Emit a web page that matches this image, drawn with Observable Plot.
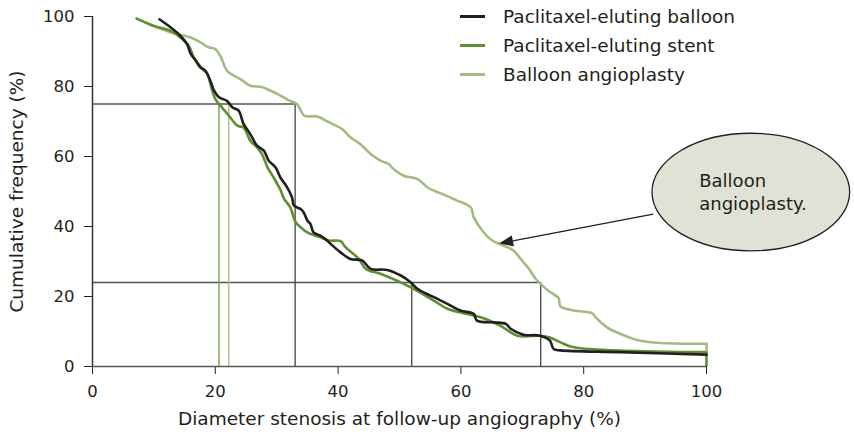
<!DOCTYPE html>
<html>
<head>
<meta charset="utf-8">
<script src="https://cdn.jsdelivr.net/npm/d3@7"></script>
<script src="https://cdn.jsdelivr.net/npm/@observablehq/plot@0.6"></script>
<style>
  body { margin: 0; background: #fff; }
  #wrap { position: relative; width: 854px; height: 439px; font-family: "DejaVu Sans", sans-serif; color: #231f20; }
  #legend { position: absolute; left: 460px; top: 1.5px; }
  #legend .row { display: flex; align-items: center; height: 29px; font-size: 18.5px; white-space: nowrap; }
  #legend .sw { width: 25px; height: 3px; margin-right: 18px; }
</style>
</head>
<body>
<div id="wrap"><div id="legend"></div></div>
<script>
// Series names and colours (legend order)
const seriesNames = ["Paclitaxel-eluting balloon", "Paclitaxel-eluting stent", "Balloon angioplasty"];
const seriesColors = ["#231f20", "#5f8f33", "#a3ba83"];

// Cumulative distribution of diameter stenosis at follow-up (%)
const balloonX = [10.9, 12.7, 14.3, 15.4, 16.0, 16.8, 17.6, 18.4, 19.2, 19.8, 20.6, 21.9, 22.8, 23.8, 24.6, 25.7, 26.8, 27.9, 28.7, 29.8, 30.6, 31.7, 32.5, 32.8, 33.9, 34.4, 35.0, 35.5, 36.0, 37.1, 38.2, 38.8, 40.4, 42.0, 43.9, 45.3, 48.0, 50.2, 51.8, 52.9, 55.6, 57.8, 59.9, 62.1, 62.6, 65.4, 67.3, 68.1, 70.2, 72.9, 74.5, 75.1, 76.2, 86.0, 100];
const balloonY = [99.2, 96.9, 94.5, 92.1, 89.3, 87.4, 85.4, 84.5, 81.6, 78.8, 76.9, 75.9, 74.0, 73.1, 69.3, 66.4, 63.1, 61.7, 58.8, 56.9, 54.0, 51.2, 48.3, 46.0, 45.0, 44.0, 41.7, 40.7, 38.3, 37.4, 36.0, 35.0, 32.6, 30.7, 30.3, 27.9, 27.6, 26.0, 24.1, 22.2, 19.8, 17.9, 16.0, 15.0, 13.1, 12.6, 12.2, 10.8, 9.1, 8.8, 7.4, 5.0, 4.6, 4.1, 3.4];

const stentX = [7.2, 10.0, 12.7, 14.3, 15.7, 16.5, 17.9, 18.7, 19.5, 20.0, 21.1, 22.2, 23.6, 24.6, 25.2, 25.7, 26.8, 27.6, 28.5, 29.5, 30.6, 31.2, 32.2, 33.1, 33.9, 35.0, 37.1, 38.5, 40.4, 41.2, 43.4, 44.5, 46.9, 49.6, 52.3, 55.6, 57.8, 61.0, 63.2, 66.4, 69.2, 72.9, 74.5, 76.2, 78.4, 100];
const stentY = [99.4, 97.3, 95.9, 94.0, 91.6, 88.3, 85.0, 83.5, 78.8, 76.4, 74.0, 71.7, 68.8, 68.3, 66.4, 64.5, 62.6, 60.7, 56.9, 54.0, 50.5, 47.9, 45.5, 41.2, 39.8, 38.3, 36.9, 36.0, 35.8, 34.1, 30.7, 27.9, 26.5, 24.5, 22.2, 18.8, 16.5, 15.0, 14.1, 11.7, 8.8, 8.8, 8.3, 6.9, 5.5, 4.1];

const angioX = [7.2, 10.0, 13.2, 16.0, 17.6, 18.9, 20.0, 20.8, 21.9, 23.0, 24.1, 25.7, 27.4, 29.0, 30.6, 32.2, 33.3, 34.5, 36.6, 38.5, 40.7, 42.0, 43.6, 45.3, 46.9, 48.3, 48.8, 50.7, 52.9, 54.7, 56.5, 59.4, 61.6, 62.1, 63.5, 65.1, 67.0, 68.6, 69.7, 71.0, 72.2, 73.0, 74.4, 75.9, 76.2, 78.4, 81.4, 81.9, 83.8, 86.0, 88.7, 92.5, 100];
const angioY = [99.4, 97.3, 95.2, 94.0, 92.6, 91.2, 90.7, 88.8, 84.5, 83.1, 82.1, 80.2, 79.9, 78.8, 77.4, 75.9, 75.0, 71.7, 71.4, 69.8, 67.8, 65.5, 63.6, 60.7, 58.8, 57.8, 56.8, 54.5, 53.6, 51.0, 49.6, 47.4, 45.5, 42.6, 38.8, 36.0, 34.5, 33.1, 30.8, 28.1, 25.0, 23.6, 21.4, 19.6, 17.2, 16.0, 15.2, 14.1, 11.2, 9.3, 7.6, 6.7, 6.5];

// Closing drops of the curves at 100% stenosis: [from, to] frequency
const stentTail = [4.1, 0];
const angioTail = [6.5, 4.1];

// Reading lines: frequency levels and the stenosis values where they are read
const levelFreq = [75, 24];          // horizontal guide levels (%)
const levelReach = [33, 73];         // stenosis where each guide ends
const dropX = [33, 52, 73];          // vertical drops to the x axis
const dropTop = [75, 24, 24];        // frequency each drop starts from
const medianX = [20.6, 22.2];        // coloured drops at the 75% level
const medianColors = ["#76a04c", "#a8be8b"];

// Axis ticks
const xTicks = [0, 20, 40, 60, 80, 100];
const yTicks = [0, 20, 40, 60, 80, 100];

// Callout
const calloutText = ["Balloon", "angioplasty."];
const calloutCenter = [107.3, 49.7];   // data units
const calloutRadii = [16.1, 16.8];     // data units
const arrowFrom = [91.4, 43.4];
const arrowTo = [66.3, 35.0];

const toRows = (xs, ys) => xs.map((x, i) => ({x, y: ys[i]}));
const balloon = toRows(balloonX, balloonY);
const stent = toRows(stentX, stentY);
const angio = toRows(angioX, angioY);

const levels = levelFreq.map((y, i) => ({y, x2: levelReach[i]}));
const drops = dropX.map((x, i) => ({x, y2: dropTop[i]}));
const medians = medianX.map((x, i) => ({x, color: medianColors[i]}));
const tails = [
  {x: 100, y1: angioTail[0], y2: angioTail[1], color: seriesColors[2]},
  {x: 100, y1: stentTail[0], y2: stentTail[1], color: seriesColors[1]}
];

function callout(index, {x, y}) {
  const g = d3.create("svg:g");
  const cx = x(calloutCenter[0]), cy = y(calloutCenter[1]);
  const rx = x(calloutCenter[0] + calloutRadii[0]) - cx;
  const ry = cy - y(calloutCenter[1] + calloutRadii[1]);
  // arrow from the bubble to the curve
  const sx = x(arrowFrom[0]), sy = y(arrowFrom[1]);
  const tx = x(arrowTo[0]), ty = y(arrowTo[1]);
  const len = Math.hypot(tx - sx, ty - sy);
  const ux = (tx - sx) / len, uy = (ty - sy) / len;
  const hl = 14, hw = 5.5;
  const bx = tx - hl * ux, by = ty - hl * uy;
  g.append("line").attr("x1", sx).attr("y1", sy).attr("x2", bx).attr("y2", by)
    .attr("stroke", "#231f20").attr("stroke-width", 1.3);
  g.append("polygon")
    .attr("points", `${tx},${ty} ${bx - hw * uy},${by + hw * ux} ${bx + hw * uy},${by - hw * ux}`)
    .attr("fill", "#231f20");
  g.append("ellipse").attr("cx", cx).attr("cy", cy).attr("rx", rx).attr("ry", ry)
    .attr("fill", "#e0e2d5").attr("stroke", "#231f20").attr("stroke-width", 1.3);
  const t = g.append("text").attr("font-size", 18).attr("fill", "#231f20")
    .attr("text-anchor", "start")
    .attr("font-family", "DejaVu Sans, sans-serif");
  t.append("tspan").attr("x", x(98.9)).attr("y", y(51.2)).text(calloutText[0]);
  t.append("tspan").attr("x", x(98.9)).attr("y", y(44.5)).text(calloutText[1]);
  return g.node();
}

const chart = Plot.plot({
  width: 854,
  height: 439,
  marginLeft: 92,
  marginRight: 148,
  marginTop: 16,
  marginBottom: 73,
  style: {fontFamily: "DejaVu Sans, sans-serif", fontSize: "16.5px", color: "#231f20", background: "#fff", overflow: "visible"},
  x: {domain: [0, 100], ticks: xTicks, tickSize: 8, tickPadding: 11, tickFormat: d => d, label: null},
  y: {domain: [0, 100], ticks: yTicks, tickSize: 8, tickPadding: 10, tickFormat: d => d, label: null},
  marks: [
    Plot.ruleY(levels, {y: "y", x1: 0, x2: "x2", stroke: "#555", strokeWidth: 1.4}),
    Plot.ruleX(drops, {x: "x", y1: 0, y2: "y2", stroke: "#333", strokeWidth: 1.2}),
    Plot.ruleX(medians, {x: "x", y1: 0, y2: 75, stroke: "color", strokeWidth: 1.4}),
    Plot.line(angio, {x: "x", y: "y", stroke: seriesColors[2], strokeWidth: 2.6, curve: "catmull-rom"}),
    Plot.line(stent, {x: "x", y: "y", stroke: seriesColors[1], strokeWidth: 2.6, curve: "catmull-rom"}),
    Plot.ruleX(tails, {x: "x", y1: "y1", y2: "y2", stroke: "color", strokeWidth: 2.6}),
    Plot.line(balloon, {x: "x", y: "y", stroke: seriesColors[0], strokeWidth: 2.6, curve: "catmull-rom"}),
    Plot.ruleX([0], {y1: 0, y2: 100, stroke: "#333", strokeWidth: 1.5}),
    Plot.ruleY([0], {x1: 0, x2: 100, stroke: "#555", strokeWidth: 1.5}),
    Plot.text(["Diameter stenosis at follow-up angiography (%)"], {frameAnchor: "bottom", dy: 58, textAnchor: "middle", fontSize: 18.5, fill: "#231f20"}),
    Plot.text(["Cumulative frequency (%)"], {frameAnchor: "left", dx: -75, rotate: -90, textAnchor: "middle", fontSize: 18.5, fill: "#231f20"}),
    callout
  ]
});

const wrap = document.getElementById("wrap");
wrap.insertBefore(chart, wrap.firstChild);

const legend = d3.select("#legend");
seriesNames.forEach((name, i) => {
  const row = legend.append("div").attr("class", "row");
  row.append("div").attr("class", "sw").style("background", seriesColors[i]);
  row.append("span").text(name);
});
</script>
</body>
</html>
